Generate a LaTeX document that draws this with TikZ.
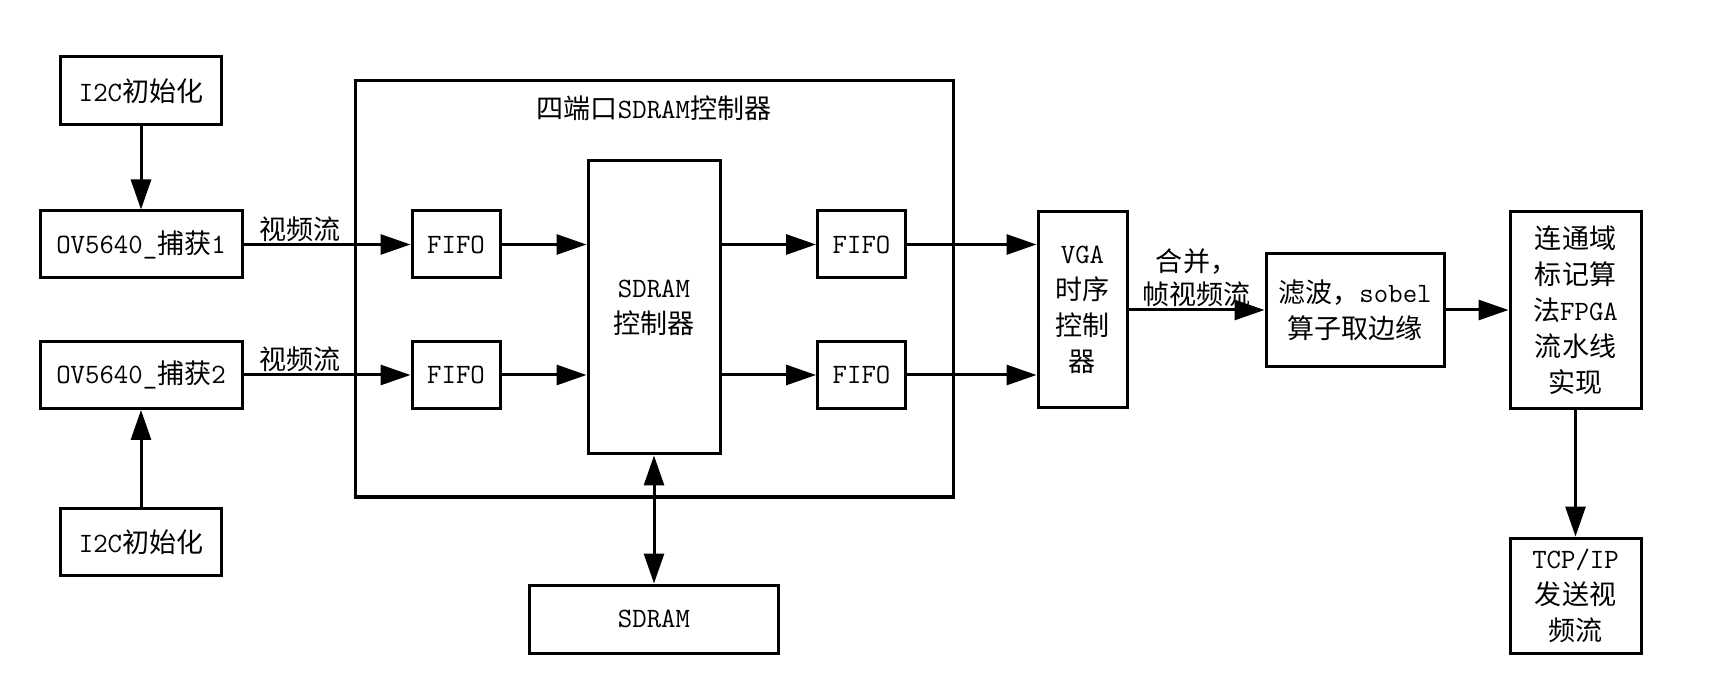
\documentclass[tikz,border=0pt]{standalone}
\usepackage{fontspec}
\newfontfamily\cjkfont{Noto Sans CJK SC}[Scale=0.965]
\newcommand{\zh}[1]{{\cjkfont #1}}
\usepackage{tikz}
\usetikzlibrary{arrows.meta,positioning}
\tikzset{
    blk/.style={draw=black,line width=3pt,inner sep=0pt,
      minimum height=67pt,align=center},
    fifobox/.style={blk,minimum width=88pt},
    flowarrow/.style={-{Triangle[length=30pt,width=20pt]},draw=black,
      line width=3pt},
    twoway/.style={{Triangle[length=30pt,width=20pt]}-{Triangle[length=30pt,width=20pt]},
      draw=black,line width=3pt},
    streamlabel/.style={inner sep=1.5pt,align=center,
      font=\fontsize{28}{33}\selectfont\cjkfont}
}

\begin{document}
\begin{tikzpicture}[x=1pt,y=-1pt,font=\fontsize{28}{36}\selectfont\ttfamily]
    \useasboundingbox (0,0) rectangle (1709,692);

    % cameras
    \node[blk,minimum width=202pt] (ov1) at (141,244.5) {OV5640\_\zh{捕获}1};
    \node[blk,minimum width=202pt] (ov2) at (141,375) {OV5640\_\zh{捕获}2};
    \node[blk,minimum width=161pt,minimum height=68pt,above=83pt of ov1] (i2ca) {I2C\zh{初始化}};
    \node[blk,minimum width=161pt,below=97pt of ov2] (i2cb) {I2C\zh{初始化}};

    % four-port controller
    \node[blk,minimum width=598pt,minimum height=416pt] (quad) at (654,289) {};
    \node (quadtitle) at (654,108) {\zh{四端口}SDRAM\zh{控制器}};
    \node[blk,minimum width=132pt,minimum height=293pt] (sdctl) at (654,307.5) {SDRAM\\\zh{控制器}};
    \node[fifobox] (fifoa) at (456,244.5) {FIFO};
    \node[fifobox] (fifob) at (456,375) {FIFO};
    \node[fifobox] (fifoc) at (861.5,244.5) {FIFO};
    \node[fifobox] (fifod) at (861.5,375) {FIFO};
    \node[blk,minimum width=249pt,minimum height=68pt] (sdram) at (654,619) {SDRAM};

    % output chain
    \node[blk,minimum width=89pt,minimum height=196pt] (vga) at (1082.5,310) {VGA\\\zh{时序}\\\zh{控制}\\\zh{器}};
    \node[blk,minimum width=178pt,minimum height=113pt] (filter) at (1355,310) {\zh{滤波，}sobel\\\zh{算子取边缘}};
    \node[blk,minimum width=131pt,minimum height=197pt] (ccl) at (1575.5,310) {\zh{连通域}\\\zh{标记算}\\\zh{法}FPGA\\\zh{流水线}\\\zh{实现}};
    \node[blk,minimum width=131pt,minimum height=115pt] (tcp) at (1575.5,595.5) {TCP/IP\\\zh{发送视}\\\zh{频流}};

    \draw[flowarrow] (i2ca)--(ov1);
    \draw[flowarrow] (i2cb)--(ov2);
    \draw[flowarrow] (ov1)--node[streamlabel,pos=0.34,above] (lbla) {视频流} (fifoa);
    \draw[flowarrow] (ov2)--node[streamlabel,pos=0.34,above] (lblb) {视频流} (fifob);
    \draw[flowarrow] (fifoa)--(fifoa -| sdctl.west);
    \draw[flowarrow] (fifob)--(fifob -| sdctl.west);
    \draw[flowarrow] (sdctl.east |- fifoc)--(fifoc);
    \draw[flowarrow] (sdctl.east |- fifod)--(fifod);
    \draw[flowarrow] (fifoc)--(fifoc -| vga.west);
    \draw[flowarrow] (fifod)--(fifod -| vga.west);
    \draw[twoway] (sdctl)--(sdram);
    \draw[flowarrow] (vga)--node[streamlabel,above] (lblc) {合并，\\帧视频流} (filter);
    \draw[flowarrow] (filter)--(ccl);
    \draw[flowarrow] (ccl)--(tcp);
\end{tikzpicture}
\end{document}
